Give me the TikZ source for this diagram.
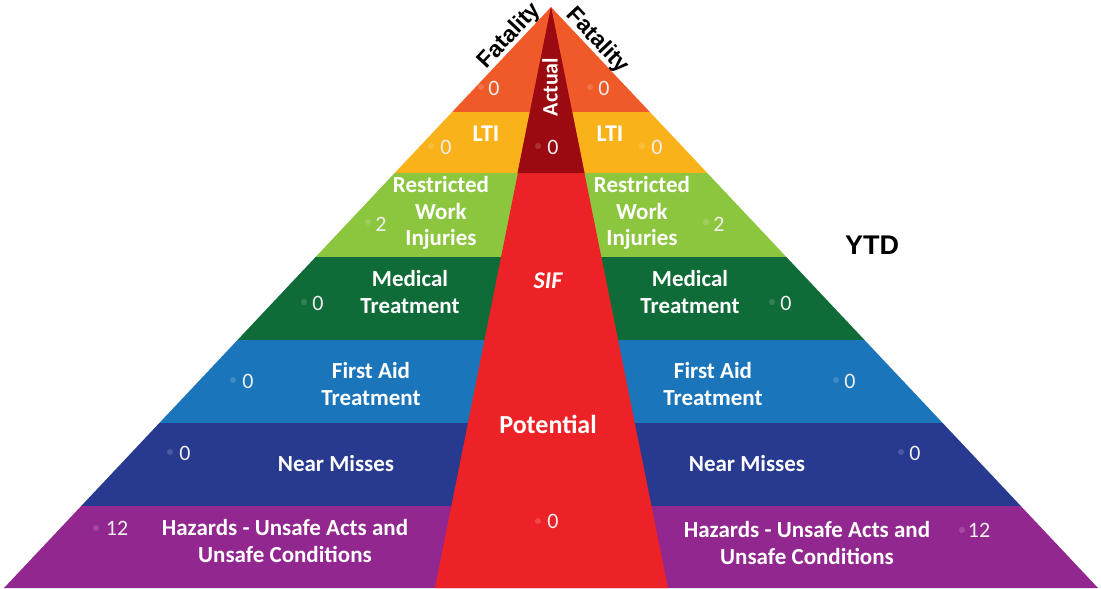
\documentclass[tikz,border=0pt]{standalone}
\usepackage{fontspec}
\setmainfont{Carlito}
\newfontfamily\arialfont{Liberation Sans}
\definecolor{cFat}{HTML}{F05A28}
\definecolor{cLti}{HTML}{FAB21B}
\definecolor{cRwi}{HTML}{8CC63F}
\definecolor{cMed}{HTML}{0F6B38}
\definecolor{cFa}{HTML}{1B75BB}
\definecolor{cNm}{HTML}{283A8F}
\definecolor{cHz}{HTML}{92278F}
\definecolor{cAct}{HTML}{9A0A10}
\definecolor{cSif}{HTML}{EC2227}
\definecolor{cNum}{HTML}{EEEEEE}
\tikzset{
  lab/.style={text=white, font=\bfseries\fontsize{23}{26.5}\selectfont, align=center, inner sep=0pt},
  num/.style={text=cNum, font=\fontsize{22}{22}\selectfont, inner sep=0pt},
  dot/.style={fill=white, fill opacity=0.16},
  fat/.style={text=black, font=\arialfont\bfseries\fontsize{23}{23}\selectfont, inner sep=0pt, anchor=base}
}
\begin{document}
\begin{tikzpicture}[x=1pt,y=-1pt]
\useasboundingbox (0,0) rectangle (1101,589);
% bands
\begin{scope}
  \clip (551,7) -- (1098,588) -- (4,588) -- cycle;
  \fill[cFat] (0,0) rectangle (1101,112);
  \fill[cLti] (0,112) rectangle (1101,173);
  \fill[cRwi] (0,173) rectangle (1101,257);
  \fill[cMed] (0,257) rectangle (1101,340);
  \fill[cFa]  (0,340) rectangle (1101,423);
  \fill[cNm]  (0,423) rectangle (1101,506);
  \fill[cHz]  (0,506) rectangle (1101,589);
\end{scope}
% central stripe
\fill[cSif] (551,7) -- (668,588) -- (435,588) -- cycle;
\fill[cAct] (551,7) -- (584.5,173) -- (517.5,173) -- cycle;
% dots
\foreach \p in {(481,87),(590,87),(431,146),(538,146),(642,146),(368,222),(706,222),
  (304,302),(772,302),(233,380),(836,380),(170,452),(901,452),(96,528),(962,530),(538,521)}
  \fill[dot] \p circle (3);
% edge labels
\node[fat, rotate=46.7] (fatL) at (514,40) {Fatality};
\node[fat, rotate=-46.7] (fatR) at (593,45) {Fatality};
\node[lab, rotate=90, font=\bfseries\fontsize{22}{22}\selectfont] (act) at (550,87) {Actual};
% fatality numbers
\node[num] (fatL0) at (494,88) {0};
\node[num] (fatR0) at (604,88) {0};
% LTI
\node[lab, font=\bfseries\fontsize{24}{24}\selectfont] (ltiL) at (486,134) {LTI};
\node[lab, font=\bfseries\fontsize{24}{24}\selectfont] (ltiR) at (610,134) {LTI};
\node[num] (ltiL0) at (446,147) {0};
\node[num] (ltiC0) at (553,147) {0};
\node[num] (ltiR0) at (657,147) {0};
% restricted work
\node[lab] (rwiL) at (441,213) {Restricted\\Work\\Injuries};
\node[lab] (rwiR) at (642,213) {Restricted\\Work\\Injuries};
\node[num] (rwiL2) at (381,224) {2};
\node[num] (rwiR2) at (719,224) {2};
% medical
\node[lab] (medL) at (410,292) {Medical\\Treatment};
\node[lab] (medR) at (690,292) {Medical\\Treatment};
\node[num] (medL0) at (318,303) {0};
\node[num] (medR0) at (786,303) {0};
\node[lab, font=\bfseries\itshape\fontsize{24}{24}\selectfont] (sif) at (548,281) {SIF};
% first aid
\node[lab] (faL) at (371,384) {First Aid\\Treatment};
\node[lab] (faR) at (713,384) {First Aid\\Treatment};
\node[num] (faL0) at (248,381) {0};
\node[num] (faR0) at (850,381) {0};
\node[lab, font=\bfseries\fontsize{26}{26}\selectfont] (pot) at (548,424) {Potential};
% near misses
\node[lab] (nmL) at (336,464) {Near Misses};
\node[lab] (nmR) at (747,464) {Near Misses};
\node[num] (nmL0) at (185,453) {0};
\node[num] (nmR0) at (915,453) {0};
% hazards
\node[lab] (hzL) at (285,541) {Hazards - Unsafe Acts and\\Unsafe Conditions};
\node[lab] (hzR) at (807,543) {Hazards - Unsafe Acts and\\Unsafe Conditions};
\node[num] (hzL12) at (117,528) {12};
\node[num] (hzR12) at (979,530) {12};
\node[num] (botC0) at (553,521) {0};
% YTD
\node[text=black, font=\arialfont\bfseries\fontsize{27}{27}\selectfont, inner sep=0pt] (ytd) at (872,245) {YTD};
\end{tikzpicture}
\end{document}
